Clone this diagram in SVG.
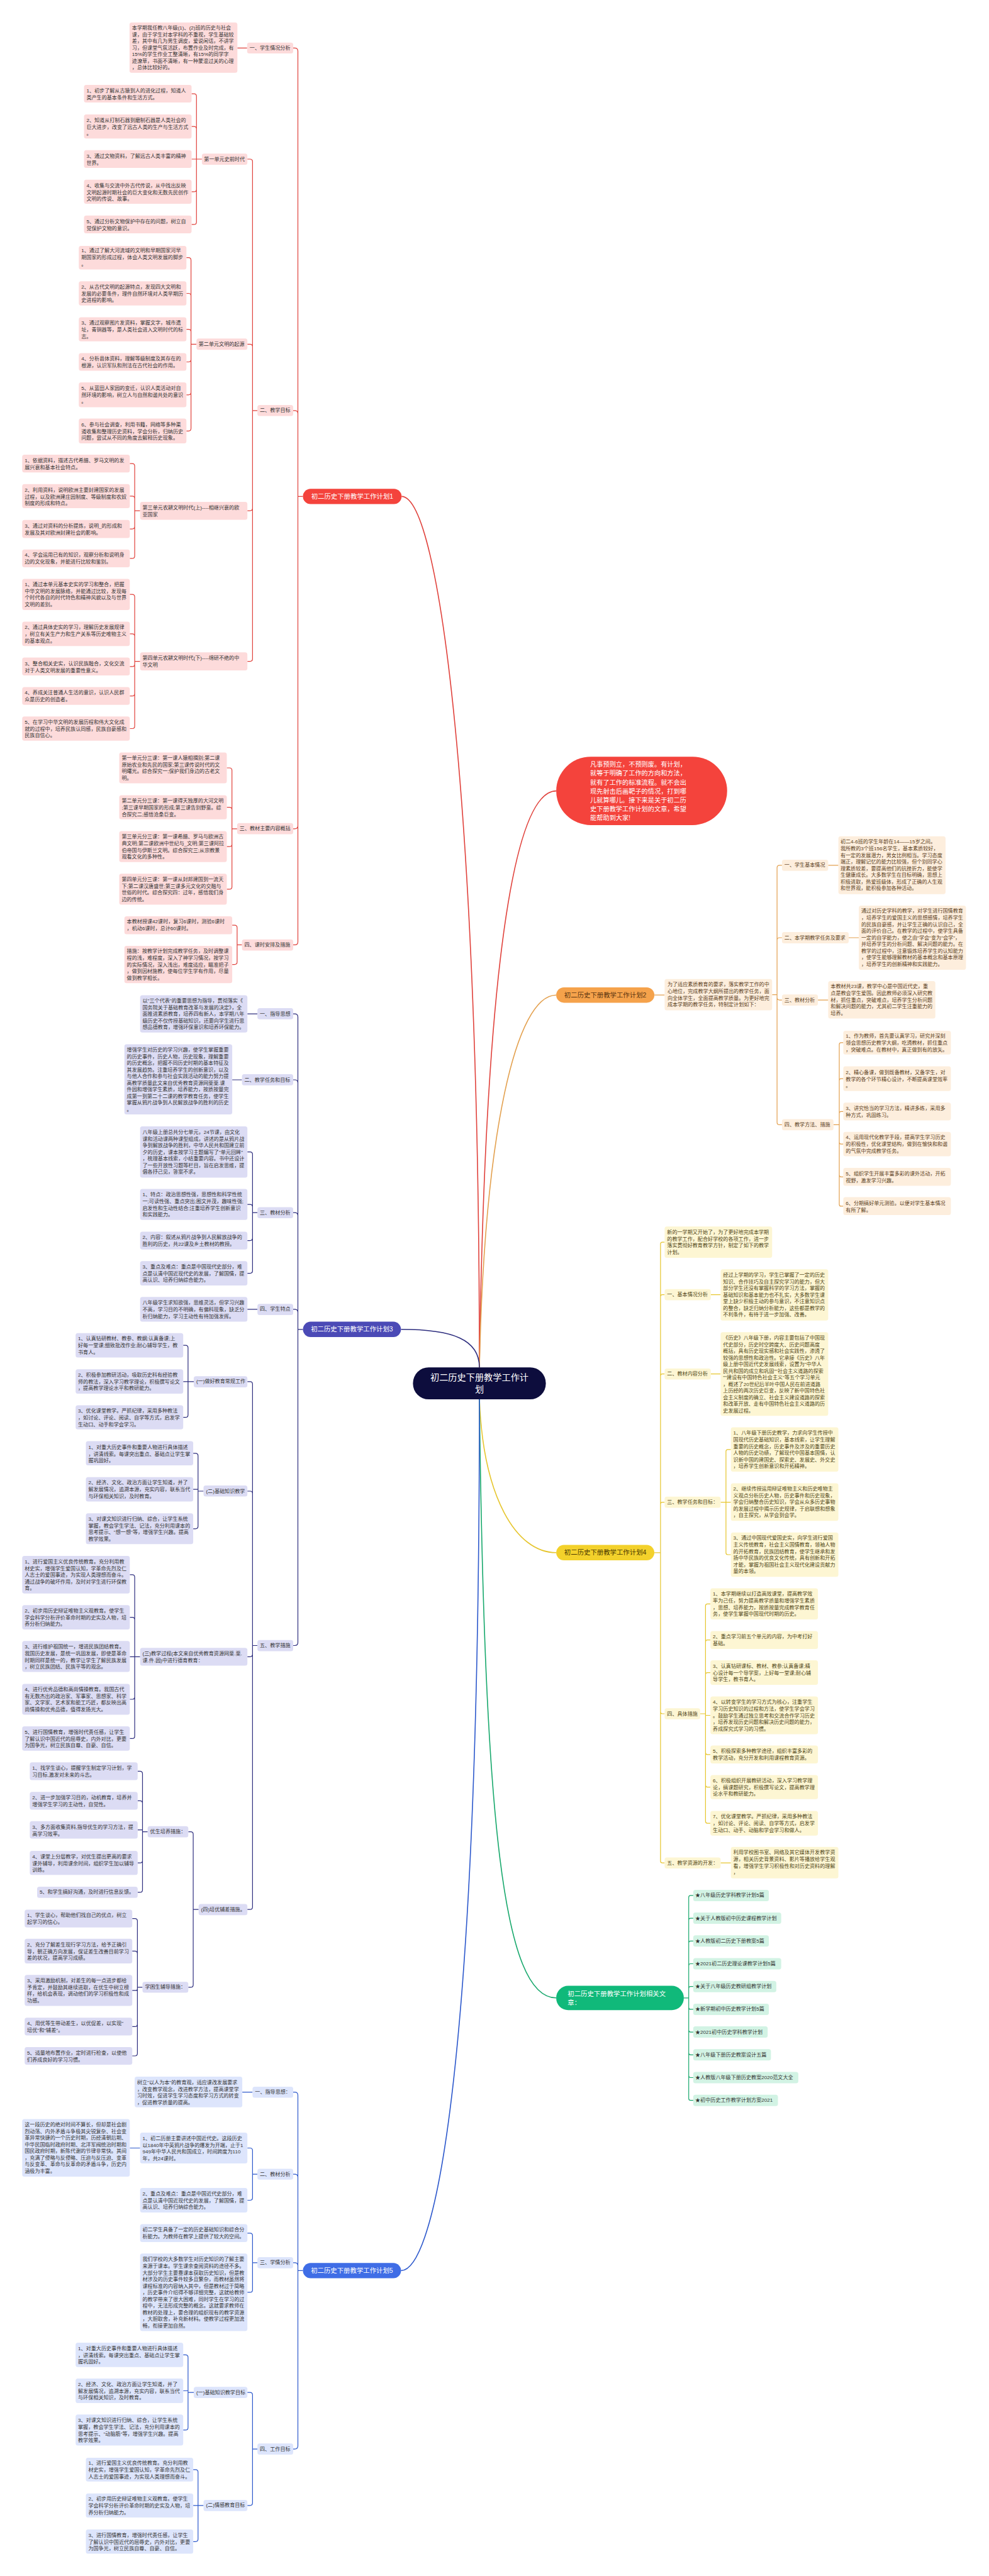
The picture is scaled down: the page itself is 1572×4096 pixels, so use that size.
<svg xmlns="http://www.w3.org/2000/svg" width="1572" height="4096" viewBox="0 0 1572 4096">
<style>
.t{font-family:"Liberation Sans","Noto Sans CJK SC",sans-serif;font-size:8.1px;fill:#333;dominant-baseline:central}
.p{font-family:"Liberation Sans","Noto Sans CJK SC",sans-serif;font-size:10.4px;dominant-baseline:central;text-anchor:middle}
.b{font-family:"Liberation Sans","Noto Sans CJK SC",sans-serif;font-size:10.2px;fill:#fff;dominant-baseline:central}
.cn{font-family:"Liberation Sans","Noto Sans CJK SC",sans-serif;font-size:14.2px;fill:#fff;dominant-baseline:central;text-anchor:middle}
.w{fill:#fff}
.rs{fill:#fddbdb}.ns{fill:#dcdcf4}.bs{fill:#dde5fc}.os{fill:#fdeedd}.ys{fill:#fdf6d3}.gs{fill:#d2f3e4}
.ot{fill:#5a3d1a}.yt{fill:#4f4514}
.c{fill:none;stroke-width:1.2}.m{fill:none;stroke-width:1.6}
.lr{stroke:#e0413b}.ln{stroke:#2d2d7e}.lb{stroke:#2c58cc}.lo{stroke:#e3a04e}.ly{stroke:#e6c52c}.lg{stroke:#17a86c}
</style>
<rect width="1572" height="4096" fill="#fff"/>
<g id="connectors">
<path class="m lr" d="M762 2174.2C762 1300 700 789.4 638.3 789.4"/>
<path class="m lr" d="M762 2174.2C770 1600 810 1257.6 884.1 1257.6"/>
<path class="m lo" d="M762 2174.2C770 1800 820 1582.2 884.1 1582.2"/>
<path class="m ln" d="M762 2174.2C762 2130 720 2113.8 637.4 2113.8"/>
<path class="m ly" d="M762 2225.1C768 2380 820 2468.8 884.1 2468.8"/>
<path class="m lg" d="M762 2225.1C770 2900 800 3176.8 884.1 3176.8"/>
<path class="m lb" d="M762 2225.1C762 3300 690 3610.4 637.4 3610.4"/>
<path class="c lr" d="M481.5 789.4H473.5V81.3Q473.5 76.3 468.5 76.3H466M481.5 789.4H473.5V657.8Q473.5 652.8 468.5 652.8H466M481.5 789.4H473.5V1312.8Q473.5 1317.8 468.5 1317.8H466M481.5 789.4H473.5V1497.4Q473.5 1502.4 468.5 1502.4H466M392.8 76.3H377.3
M409.2 652.8H401.4V257Q401.4 253 397.4 253H393.2M409.2 652.8H401.4V551.3Q401.4 547.3 397.4 547.3H393.2M409.2 652.8H401.4V808.1Q401.4 812.1 397.4 812.1H393.2M409.2 652.8H401.4V1047.6Q401.4 1051.6 397.4 1051.6H393.2
M320.9 253H312.3V153.1Q312.3 149.1 308.3 149.1H304.5M320.9 253H312.3V205.1Q312.3 201.1 308.3 201.1H304.5M320.9 253H304.5M320.9 253H312.3V300.9Q312.3 304.9 308.3 304.9H304.5M320.9 253H312.3V352.9Q312.3 356.9 308.3 356.9H304.5
M312.3 547.3H303.6V413.7Q303.6 409.7 299.6 409.7H296.3M312.3 547.3H303.6V470.5Q303.6 466.5 299.6 466.5H296.3M312.3 547.3H303.6V527.7Q303.6 523.7 299.6 523.7H296.3M312.3 547.3H303.6V571.5Q303.6 575.5 299.6 575.5H296.3M312.3 547.3H303.6V623.8Q303.6 627.8 299.6 627.8H296.3M312.3 547.3H303.6V681.3Q303.6 685.3 299.6 685.3H296.3
M222.7 812.1H214.1V741.2Q214.1 737.2 210.1 737.2H206.3M222.7 812.1H214.1V792.9Q214.1 788.9 210.1 788.9H206.3M222.7 812.1H214.1V837.1Q214.1 841.1 210.1 841.1H206.3M222.7 812.1H214.1V883.9Q214.1 887.9 210.1 887.9H206.3
M222.7 1051.6H214.1V949.2Q214.1 945.2 210.1 945.2H206.3M222.7 1051.6H214.1V1011.8Q214.1 1007.8 210.1 1007.8H206.3M222.7 1051.6H214.1V1055.9Q214.1 1059.9 210.1 1059.9H206.3M222.7 1051.6H214.1V1102.7Q214.1 1106.7 210.1 1106.7H206.3M222.7 1051.6H214.1V1154.5Q214.1 1158.5 210.1 1158.5H206.3
M376.9 1317.8H368.7V1225Q368.7 1221 364.7 1221H360.5M376.9 1317.8H368.7V1287.6Q368.7 1283.6 364.7 1283.6H360.5M376.9 1317.8H368.7V1342.2Q368.7 1346.2 364.7 1346.2H360.5M376.9 1317.8H368.7V1409.9Q368.7 1413.9 364.7 1413.9H360.5
M384.6 1502.4H376.9V1475.2Q376.9 1471.2 372.9 1471.2H369.1M384.6 1502.4H376.9V1529.6Q376.9 1533.6 372.9 1533.6H369.1"/>
<path class="c ln" d="M481.5 2113.8H473.5V1617.1Q473.5 1612.1 468.5 1612.1H466M481.5 2113.8H473.5V1722Q473.5 1717 468.5 1717H466M481.5 2113.8H473.5V1933.1Q473.5 1928.1 468.5 1928.1H466M481.5 2113.8H473.5V2086.8Q473.5 2081.8 468.5 2081.8H466M481.5 2113.8H473.5V2611.5Q473.5 2616.5 468.5 2616.5H466
M409.2 1612.1H393.2M384.6 1717H369.1M409.2 2081.8H393.2
M409.2 1928.1H401.4V1835.7Q401.4 1831.7 397.4 1831.7H393.2M409.2 1928.1H401.4V1919.1Q401.4 1915.1 397.4 1915.1H393.2M409.2 1928.1H401.4V1968.6Q401.4 1972.6 397.4 1972.6H393.2M409.2 1928.1H401.4V2020.6Q401.4 2024.6 397.4 2024.6H393.2
M409.2 2616.5H401.4V2200.9Q401.4 2196.9 397.4 2196.9H393.2M409.2 2616.5H401.4V2375Q401.4 2371 397.4 2371H393.2M409.2 2616.5H401.4V2630.3Q401.4 2634.3 397.4 2634.3H393.2M409.2 2616.5H401.4V3032.2Q401.4 3036.2 397.4 3036.2H393.2
M308 2196.9H298.9V2143.2Q298.9 2139.2 294.9 2139.2H291.2M308 2196.9H291.2M308 2196.9H298.9V2249.7Q298.9 2253.7 294.9 2253.7H291.2
M323.5 2371H314.8V2314.8Q314.8 2310.8 310.8 2310.8H307.1M323.5 2371H314.8V2368.2H307.1M323.5 2371H314.8V2426.8Q314.8 2430.8 310.8 2430.8H307.1
M222.7 2634.3H214.1V2507.9Q214.1 2503.9 210.1 2503.9H206.3M222.7 2634.3H214.1V2575.6Q214.1 2571.6 210.1 2571.6H206.3M222.7 2634.3H206.3M222.7 2634.3H214.1V2698Q214.1 2702 210.1 2702H206.3M222.7 2634.3H214.1V2760.4Q214.1 2764.4 210.1 2764.4H206.3
M315.7 3036.2H307.1V2916.7Q307.1 2912.7 303.1 2912.7H299.3M315.7 3036.2H307.1V3155.9Q307.1 3159.9 303.1 3159.9H299.3
M234.7 2912.7H226.5V2820.3Q226.5 2816.3 222.5 2816.3H218.8M234.7 2912.7H226.5V2867.3Q226.5 2863.3 222.5 2863.3H218.8M234.7 2912.7H226.5V2909.6H218.8M234.7 2912.7H226.5V2958.2Q226.5 2962.2 222.5 2962.2H218.8M234.7 2912.7H226.5V3004.9Q226.5 3008.9 222.5 3008.9H218.8
M226.5 3159.9H218.4V3054.6Q218.4 3050.6 214.4 3050.6H210.2M226.5 3159.9H218.4V3106.4Q218.4 3102.4 214.4 3102.4H210.2M226.5 3159.9H218.4V3162.4Q218.4 3164.9 215.9 3164.9H210.2M226.5 3159.9H218.4V3218.4Q218.4 3222.4 214.4 3222.4H210.2M226.5 3159.9H218.4V3265Q218.4 3269 214.4 3269H210.2"/>
<path class="c lb" d="M481.5 3610.4H473.5V3331.7Q473.5 3326.7 468.5 3326.7H466M481.5 3610.4H473.5V3462.2Q473.5 3457.2 468.5 3457.2H466M481.5 3610.4H473.5V3602.8Q473.5 3597.8 468.5 3597.8H466M481.5 3610.4H473.5V3889.1Q473.5 3894.1 468.5 3894.1H466
M401.4 3326.7H385.1M222.7 3415.5H206.3
M409.2 3457.2H401.4V3419.5Q401.4 3415.5 397.4 3415.5H393.2M409.2 3457.2H401.4V3494.5Q401.4 3498.5 397.4 3498.5H393.2
M409.2 3597.8H401.4V3554.8Q401.4 3550.8 397.4 3550.8H393.2M409.2 3597.8H401.4V3640.9Q401.4 3644.9 397.4 3644.9H393.2
M409.2 3894.1H401.4V3808.1Q401.4 3804.1 397.4 3804.1H393.2M409.2 3894.1H401.4V3979.8Q401.4 3983.8 397.4 3983.8H393.2
M308 3804.1H298.9V3748.4Q298.9 3744.4 294.9 3744.4H291.2M308 3804.1H298.9V3801.5H291.2M308 3804.1H298.9V3859.9Q298.9 3863.9 294.9 3863.9H291.2
M323.5 3983.8H314.8V3930.9Q314.8 3926.9 310.8 3926.9H307.1M323.5 3983.8H307.1M323.5 3983.8H314.8V4037.3Q314.8 4041.3 310.8 4041.3H307.1"/>
<path class="c lo" d="M1040.1 1582.2H1056.4
M1227.3 1581.7H1235.1V1379.9Q1235.1 1375.9 1239.1 1375.9H1242.9M1227.3 1581.7H1235.1V1495Q1235.1 1491 1239.1 1491H1242.9M1227.3 1581.7H1235.1V1586.1Q1235.1 1590.1 1239.1 1590.1H1242.9M1227.3 1581.7H1235.1V1784.4Q1235.1 1788.4 1239.1 1788.4H1242.9
M1316.4 1375.9H1332.6M1349 1491H1365.1M1300.1 1590.1H1316.4
M1324.8 1788.4H1334V1660.9Q1334 1657.9 1337 1657.9H1340.4M1324.8 1788.4H1334V1718.2Q1334 1715.2 1337 1715.2H1340.4M1324.8 1788.4H1334V1770.3Q1334 1767.3 1337 1767.3H1340.4M1324.8 1788.4H1334V1816.2Q1334 1819.2 1337 1819.2H1340.4M1324.8 1788.4H1334V1868.3Q1334 1871.3 1337 1871.3H1340.4M1324.8 1788.4H1334V1914.9Q1334 1917.9 1337 1917.9H1340.4"/>
<path class="c ly" d="M1040.1 2468.8H1049.9V1978.1Q1049.9 1975.1 1052.9 1975.1H1056.4M1040.1 2468.8H1049.9V2061.6Q1049.9 2058.6 1052.9 2058.6H1056.4M1040.1 2468.8H1049.9V2187.7Q1049.9 2184.7 1052.9 2184.7H1056.4M1040.1 2468.8H1049.9V2391.6Q1049.9 2388.6 1052.9 2388.6H1056.4M1040.1 2468.8H1049.9V2722Q1049.9 2725 1052.9 2725H1056.4M1040.1 2468.8H1049.9V2959.2Q1049.9 2962.2 1052.9 2962.2H1056.4
M1129.8 2058.6H1145.4M1129.8 2184.7H1145.4M1145.4 2962.2H1161.7
M1145.4 2388.6H1153.9V2307.8Q1153.9 2304.8 1156.9 2304.8H1161.7M1145.4 2388.6H1161.7M1145.4 2388.6H1153.9V2469Q1153.9 2472 1156.9 2472H1161.7
M1112.9 2725H1121.4V2553.3Q1121.4 2550.3 1124.4 2550.3H1129.2M1112.9 2725H1121.4V2610.7Q1121.4 2607.7 1124.4 2607.7H1129.2M1112.9 2725H1121.4V2662.6Q1121.4 2659.6 1124.4 2659.6H1129.2M1112.9 2725H1121.4V2727.5H1129.2M1112.9 2725H1121.4V2786.8Q1121.4 2789.8 1124.4 2789.8H1129.2M1112.9 2725H1121.4V2838.6Q1121.4 2841.6 1124.4 2841.6H1129.2M1112.9 2725H1121.4V2896.1Q1121.4 2899.1 1124.4 2899.1H1129.2"/>
<path class="c lg" d="M1086.9 3176.8H1094.7V3016.9Q1094.7 3013.9 1097.7 3013.9H1101.9M1086.9 3176.8H1094.7V3053.1Q1094.7 3050.1 1097.7 3050.1H1101.9M1086.9 3176.8H1094.7V3089.3Q1094.7 3086.3 1097.7 3086.3H1101.9M1086.9 3176.8H1094.7V3125.5Q1094.7 3122.5 1097.7 3122.5H1101.9M1086.9 3176.8H1094.7V3161.7Q1094.7 3158.7 1097.7 3158.7H1101.9M1086.9 3176.8H1094.7V3191.9Q1094.7 3194.9 1097.7 3194.9H1101.9M1086.9 3176.8H1094.7V3228.1Q1094.7 3231.1 1097.7 3231.1H1101.9M1086.9 3176.8H1094.7V3264.3Q1094.7 3267.3 1097.7 3267.3H1101.9M1086.9 3176.8H1094.7V3300.5Q1094.7 3303.5 1097.7 3303.5H1101.9M1086.9 3176.8H1094.7V3336.7Q1094.7 3339.7 1097.7 3339.7H1101.9"/>
</g>
<g id="center"><rect x="656.4" y="2174.2" width="211.2" height="50.9" rx="25" fill="#0d0d3d"/><text class="cn" x="762" y="2189.8">初二历史下册教学工作计<tspan x="762" dy="19.6">划</tspan></text></g>
<g id="intro"><rect x="884.1" y="1203.2" width="271.7" height="108.8" rx="55" fill="#f4433c"/><text class="b" x="938.1" y="1215.3">凡事预则立，不预则废。有计划，<tspan x="938.1" dy="14.1">就等于明确了工作的方向和方法，</tspan><tspan x="938.1" dy="14.1">就有了工作的标准流程。就不会出</tspan><tspan x="938.1" dy="14.1">现先射击后画靶子的情况，打到哪</tspan><tspan x="938.1" dy="14.1">儿就算哪儿。接下来是关于初二历</tspan><tspan x="938.1" dy="14.1">史下册教学工作计划的文章，希望</tspan><tspan x="938.1" dy="14.1">能帮助到大家!</tspan></text></g>

<g id="plan1"><rect x="481.5" y="777.2" width="156.8" height="24.4" rx="12.2" fill="#f4433c"/><text class="p w" x="559.9" y="789.4">初二历史下册教学工作计划1</text></g>
<g id="p1-1"><rect class="rs" x="392.8" y="67.7" width="73.2" height="17.3" rx="3.5"/><text class="t" x="396.8" y="76.3">一、学生情况分析</text></g>
<g id="p1-1a"><rect class="rs" x="205.9" y="35.7" width="171.4" height="80.1" rx="3.5"/><text class="t" x="209.8" y="44.4">本学期我任教八年级(1)、(2)班的历史与社会<tspan x="209.8" dy="10.5">课，由于学生对本学科的不重视，学生基础较</tspan><tspan x="209.8" dy="10.5">差，其中有几为男生调皮，爱说闲话，不讲学</tspan><tspan x="209.8" dy="10.5">习，但课堂气氛活跃，布置作业及时完成，有</tspan><tspan x="209.8" dy="10.5">15%的学生作业工整清晰，有15%的同学字</tspan><tspan x="209.8" dy="10.5">迹潦草，书面不清晰，有一种蒙混过关的心理</tspan><tspan x="209.8" dy="10.5">，总体比较好的。</tspan></text></g>
<g id="p1-2"><rect class="rs" x="409.2" y="644.1" width="56.8" height="17.3" rx="3.5"/><text class="t" x="413" y="652.8">二、教学目标</text></g>
<g id="p1-2-1"><rect class="rs" x="320.9" y="244.3" width="72.3" height="17.7" rx="3.5"/><text class="t" x="324.3" y="253">第一单元史前时代</text></g>
<g id="p1-2-1a"><rect class="rs" x="133.5" y="135" width="171" height="28.1" rx="3.5"/><text class="t" x="137.4" y="144">1、初步了解从古猿到人的进化过程，知道人<tspan x="137.4" dy="10.5">类产生的基本条件和生活方式。</tspan></text></g>
<g id="p1-2-1b"><rect class="rs" x="133.5" y="181.9" width="171" height="38.4" rx="3.5"/><text class="t" x="137.4" y="191">2、知道从打制石器到磨制石器是人类社会的<tspan x="137.4" dy="10.5">巨大进步，改变了远古人类的生产与生活方式</tspan><tspan x="137.4" dy="10.5">。</tspan></text></g>
<g id="p1-2-1c"><rect class="rs" x="133.5" y="238.7" width="171" height="28.2" rx="3.5"/><text class="t" x="137.4" y="248.1">3、通过文物资料，了解远古人类丰富的精神<tspan x="137.4" dy="10.5">世界。</tspan></text></g>
<g id="p1-2-1d"><rect class="rs" x="133.5" y="285.7" width="171" height="38.3" rx="3.5"/><text class="t" x="137.4" y="295.1">4、收集与交流中外古代传说，从中找出反映<tspan x="137.4" dy="10.5">文明起源时期社会的巨大变化和无数先民创作</tspan><tspan x="137.4" dy="10.5">文明的传说、故事。</tspan></text></g>
<g id="p1-2-1e"><rect class="rs" x="133.5" y="342.8" width="171" height="28.2" rx="3.5"/><text class="t" x="137.4" y="352.2">5、通过分析文物保护中存在的问题，树立自<tspan x="137.4" dy="10.5">觉保护文物的意识。</tspan></text></g>
<g id="p1-2-2"><rect class="rs" x="312.3" y="538.3" width="80.9" height="18" rx="3.5"/><text class="t" x="315.7" y="547.3">第二单元文明的起源</text></g>
<g id="p1-2-2a"><rect class="rs" x="125.3" y="390.9" width="171" height="37.6" rx="3.5"/><text class="t" x="129.2" y="398.8">1、通过了解大河流域的文明和早期国家河早<tspan x="129.2" dy="10.5">期国家的形成过程，体会人类文明发展的脚步</tspan><tspan x="129.2" dy="10.5">。</tspan></text></g>
<g id="p1-2-2b"><rect class="rs" x="125.3" y="447.3" width="171" height="38.4" rx="3.5"/><text class="t" x="129.2" y="456">2、从古代文明的起源特点，发现四大文明和<tspan x="129.2" dy="10.5">发展的必要条件，理件自然环境对人类早期历</tspan><tspan x="129.2" dy="10.5">史进程的影响。</tspan></text></g>
<g id="p1-2-2c"><rect class="rs" x="125.3" y="504.5" width="171" height="38.3" rx="3.5"/><text class="t" x="129.2" y="513.5">3、通过观察图片发资料，掌握文字，城市遗<tspan x="129.2" dy="10.5">址，青铜器等，是人类社会进入文明时代的标</tspan><tspan x="129.2" dy="10.5">志。</tspan></text></g>
<g id="p1-2-2d"><rect class="rs" x="125.3" y="561.6" width="171" height="27.8" rx="3.5"/><text class="t" x="129.2" y="570.6">4、分析县体资料，理解等级制度及其存在的<tspan x="129.2" dy="10.5">根源，认识军队和刑法在古代社会的作用。</tspan></text></g>
<g id="p1-2-2e"><rect class="rs" x="125.3" y="608" width="171" height="39.5" rx="3.5"/><text class="t" x="129.2" y="617.4">5、从蓝田人家园的变迁，认识人类活动对自<tspan x="129.2" dy="10.5">然环境的影响，树立人与自然和谐共处的意识</tspan><tspan x="129.2" dy="10.5">。</tspan></text></g>
<g id="p1-2-2f"><rect class="rs" x="125.3" y="665.5" width="171" height="39.5" rx="3.5"/><text class="t" x="129.2" y="675">6、参与社会调查，利用书籍，网络等多种渠<tspan x="129.2" dy="10.5">道收集和整理历史资料，学会分析，归纳历史</tspan><tspan x="129.2" dy="10.5">问题，尝试从不同的角度去解释历史现象。</tspan></text></g>
<g id="p1-2-3"><rect class="rs" x="222.7" y="797.9" width="170.5" height="28.5" rx="3.5"/><text class="t" x="226.5" y="807.3">第三单元农耕文明时代(上)----相继兴衰的欧<tspan x="226.5" dy="10.5">亚国家</tspan></text></g>
<g id="p1-2-3a"><rect class="rs" x="35.3" y="723.1" width="171" height="28.1" rx="3.5"/><text class="t" x="39.2" y="732.1">1、依据资料，描述古代希腊、罗马文明的发<tspan x="39.2" dy="10.5">展兴衰和基本社会特点。</tspan></text></g>
<g id="p1-2-3b"><rect class="rs" x="35.3" y="769.7" width="171" height="38.3" rx="3.5"/><text class="t" x="39.2" y="779.1">2、利用资料，说明欧洲主要封建国家的发展<tspan x="39.2" dy="10.5">过程，以及欧洲建庄园制度、等级制度和农奴</tspan><tspan x="39.2" dy="10.5">制度的形成和特点。</tspan></text></g>
<g id="p1-2-3c"><rect class="rs" x="35.3" y="826.8" width="171" height="28.6" rx="3.5"/><text class="t" x="39.2" y="836.2">3、通过对资料的分析提炼，说明_的形成和<tspan x="39.2" dy="10.5">发展及其对欧洲封建社会的影响。</tspan></text></g>
<g id="p1-2-3d"><rect class="rs" x="35.3" y="873.8" width="171" height="28.2" rx="3.5"/><text class="t" x="39.2" y="882.8">4、学会运用已有的知识，观察分析和说明身<tspan x="39.2" dy="10.5">边的文化现象，并能进行比较和鉴别。</tspan></text></g>
<g id="p1-2-4"><rect class="rs" x="222.7" y="1037.3" width="170.5" height="28.6" rx="3.5"/><text class="t" x="226.5" y="1046.7">第四单元农耕文明时代(下)----绵研不绝的中<tspan x="226.5" dy="10.5">华文明</tspan></text></g>
<g id="p1-2-4a"><rect class="rs" x="35.3" y="920.4" width="171" height="49.6" rx="3.5"/><text class="t" x="39.2" y="929.4">1、通过本单元基本史实的学习和整合，把握<tspan x="39.2" dy="10.5">中华文明的发展脉络，并能通过比较，发现每</tspan><tspan x="39.2" dy="10.5">个时代各自的时代特色和精神风貌以及与世界</tspan><tspan x="39.2" dy="10.5">文明的差别。</tspan></text></g>
<g id="p1-2-4b"><rect class="rs" x="35.3" y="988.4" width="171" height="38.8" rx="3.5"/><text class="t" x="39.2" y="997.5">2、通过具体史实的学习，理解历史发展规律<tspan x="39.2" dy="10.5">，树立有关生产力和生产关系等历史唯物主义</tspan><tspan x="39.2" dy="10.5">的基本观点。</tspan></text></g>
<g id="p1-2-4c"><rect class="rs" x="35.3" y="1045.6" width="171" height="28.5" rx="3.5"/><text class="t" x="39.2" y="1055">3、整合相关史实，认识民族融合，文化交流<tspan x="39.2" dy="10.5">对于人类文明发展的重要性意义。</tspan></text></g>
<g id="p1-2-4d"><rect class="rs" x="35.3" y="1092.6" width="171" height="28.2" rx="3.5"/><text class="t" x="39.2" y="1101.6">4、养成关注普通人生活的意识，认识人民群<tspan x="39.2" dy="10.5">众是历史的创造者。</tspan></text></g>
<g id="p1-2-4e"><rect class="rs" x="35.3" y="1139.2" width="171" height="38.5" rx="3.5"/><text class="t" x="39.2" y="1148.2">5、在学习中华文明的发展历程和伟大文化成<tspan x="39.2" dy="10.5">就的过程中，培养民族认同感，民族自豪感和</tspan><tspan x="39.2" dy="10.5">民族自信心。</tspan></text></g>
<g id="p1-3"><rect class="rs" x="376.9" y="1308.8" width="89.1" height="17.7" rx="3.5"/><text class="t" x="380.8" y="1317.8">三、教材主要内容概括</text></g>
<g id="p1-3a"><rect class="rs" x="189.5" y="1196.4" width="171" height="49.2" rx="3.5"/><text class="t" x="193.4" y="1205.4">第一单元分三课：第一课人猿相揖别;第二课<tspan x="193.4" dy="10.5">原始农业和先民的国家;第三课传说时代的文</tspan><tspan x="193.4" dy="10.5">明曙光。综合探究一;保护我们身边的古老文</tspan><tspan x="193.4" dy="10.5">明。</tspan></text></g>
<g id="p1-3b"><rect class="rs" x="189.5" y="1264.4" width="171" height="38.4" rx="3.5"/><text class="t" x="193.4" y="1273.5">第二单元分三课：第一课得天独厚的大河文明<tspan x="193.4" dy="10.5">;第三课早期国家的形成;第三课告别野蛮。综</tspan><tspan x="193.4" dy="10.5">合探究二;感悟沧桑巨变。</tspan></text></g>
<g id="p1-3c"><rect class="rs" x="189.5" y="1321.6" width="171" height="49.2" rx="3.5"/><text class="t" x="193.4" y="1330.6">第三单元分三课：第一课希腊、罗马与欧洲古<tspan x="193.4" dy="10.5">典文明;第二课欧洲中世纪与_文明;第三课阿拉</tspan><tspan x="193.4" dy="10.5">伯帝国与伊斯兰文明。综合探究三;从宗教景</tspan><tspan x="193.4" dy="10.5">观看文化的多种性。</tspan></text></g>
<g id="p1-3d"><rect class="rs" x="189.5" y="1389.2" width="171" height="49.3" rx="3.5"/><text class="t" x="193.4" y="1398.3">第四单元分三课：第一课从封邦建国到一流天<tspan x="193.4" dy="10.5">下;第二课汉唐盛世;第三课多元文化的交融与</tspan><tspan x="193.4" dy="10.5">世俗的时代。综合探究四：过年，感悟我们身</tspan><tspan x="193.4" dy="10.5">边的传统。</tspan></text></g>
<g id="p1-4"><rect class="rs" x="384.6" y="1493.7" width="81.4" height="17.7" rx="3.5"/><text class="t" x="388.5" y="1502.4">四、课时安排及措施</text></g>
<g id="p1-4a"><rect class="rs" x="197.7" y="1456.9" width="171.4" height="28.6" rx="3.5"/><text class="t" x="201.6" y="1465.9">本教材授课42课时，复习6课时，测验6课时<tspan x="201.6" dy="10.5">，机动6课时，总计60课时。</tspan></text></g>
<g id="p1-4b"><rect class="rs" x="197.7" y="1503.9" width="171.4" height="59.4" rx="3.5"/><text class="t" x="201.6" y="1512.9">措施：按教学计划完成教学任务，及时调整课<tspan x="201.6" dy="10.5">程的浅，难程度，深入了神学习情况，按学习</tspan><tspan x="201.6" dy="10.5">的实际情况，深入浅出，难度适应，瞄准把子</tspan><tspan x="201.6" dy="10.5">，做到因材施教，使每位学生学有作用，尽量</tspan><tspan x="201.6" dy="10.5">做到教学相长。</tspan></text></g>

<g id="plan3"><rect x="481.5" y="2101.6" width="155.9" height="24.4" rx="12.2" fill="#4b4ab6"/><text class="p w" x="559.4" y="2113.8">初二历史下册教学工作计划3</text></g>
<g id="p3-1"><rect class="ns" x="409.2" y="1603.1" width="56.8" height="17.7" rx="3.5"/><text class="t" x="413" y="1612.1">一、指导思想</text></g>
<g id="p3-1a"><rect class="ns" x="222.7" y="1582.5" width="170.5" height="59.3" rx="3.5"/><text class="t" x="226.5" y="1591.1">以"三个代表"的重要思想为指导，贯彻落实《<tspan x="226.5" dy="10.5">国务院关于基础教育改革与发展的决定》，全</tspan><tspan x="226.5" dy="10.5">面推进素质教育，培养四有新人，本学期八年</tspan><tspan x="226.5" dy="10.5">级历史不仅传授基础知识，还要向学生进行思</tspan><tspan x="226.5" dy="10.5">想品德教育，增强环保意识和培养环保能力。</tspan></text></g>
<g id="p3-2"><rect class="ns" x="384.6" y="1708" width="81.4" height="17.7" rx="3.5"/><text class="t" x="388.5" y="1717">二、教学任务和目标</text></g>
<g id="p3-2a"><rect class="ns" x="197.7" y="1660.6" width="171.4" height="111.5" rx="3.5"/><text class="t" x="201.6" y="1669.3">增强学生对历史的学习兴趣，使学生掌握重要<tspan x="201.6" dy="10.5">的历史事件，历史人物，历史现象，理解重要</tspan><tspan x="201.6" dy="10.5">的历史概念，把握不同历史时期的基本特征及</tspan><tspan x="201.6" dy="10.5">其发展趋势。注重培养学生的创新意识，以及</tspan><tspan x="201.6" dy="10.5">与他人合作和参与社会实践活动的能力努力提</tspan><tspan x="201.6" dy="10.5">高教学质量此文来自优秀教育资源网斐斐.课</tspan><tspan x="201.6" dy="10.5">件园和增强学生素质，培养能力，按质按量完</tspan><tspan x="201.6" dy="10.5">成第一到第二十二课的教学教育任务，使学生</tspan><tspan x="201.6" dy="10.5">掌握从鸦片战争到人民解放战争的胜利的历史</tspan><tspan x="201.6" dy="10.5">。</tspan></text></g>
<g id="p3-3"><rect class="ns" x="409.2" y="1919.5" width="56.8" height="17.6" rx="3.5"/><text class="t" x="413" y="1928.1">三、教材分析</text></g>
<g id="p3-3a"><rect class="ns" x="222.7" y="1790.9" width="170.5" height="81.6" rx="3.5"/><text class="t" x="226.5" y="1800.3">八年级上册总共分七单元，24节课，由文化<tspan x="226.5" dy="10.5">课和活动课两种课型组成，讲述的是从鸦片战</tspan><tspan x="226.5" dy="10.5">争到解放战争的胜利，中华人民共和国建立前</tspan><tspan x="226.5" dy="10.5">夕的历史，课本按学习主题编写了"单元回眸"</tspan><tspan x="226.5" dy="10.5">，梳理基本线索，小结重要内容。书中还设计</tspan><tspan x="226.5" dy="10.5">了一些开放性习题等栏目，旨在启发思维，提</tspan><tspan x="226.5" dy="10.5">倡各抒己见，答案不求。</tspan></text></g>
<g id="p3-3b"><rect class="ns" x="222.7" y="1890.5" width="170.5" height="49.2" rx="3.5"/><text class="t" x="226.5" y="1899.9">1、特点：政治思想性强，思想性和科学性统<tspan x="226.5" dy="10.5">一;可读性强、重点突出;图文并茂，趣味性强;</tspan><tspan x="226.5" dy="10.5">启发性和生动性结合;注重培养学生创新意识</tspan><tspan x="226.5" dy="10.5">和实践能力。</tspan></text></g>
<g id="p3-3c"><rect class="ns" x="222.7" y="1958.5" width="170.5" height="28.2" rx="3.5"/><text class="t" x="226.5" y="1967.6">2、内容：叙述从鸦片战争到人民解放战争的<tspan x="226.5" dy="10.5">胜利的历史，共22课及乡土教材的教授。</tspan></text></g>
<g id="p3-3d"><rect class="ns" x="222.7" y="2005.2" width="170.5" height="38.7" rx="3.5"/><text class="t" x="226.5" y="2014.2">3、重点及难点：重点是中国现代史部分，难<tspan x="226.5" dy="10.5">点是认清中国近现代史的发展，了解国情，提</tspan><tspan x="226.5" dy="10.5">高认识、培养归纳综合能力。</tspan></text></g>
<g id="p3-4"><rect class="ns" x="409.2" y="2073.2" width="56.8" height="17.7" rx="3.5"/><text class="t" x="413" y="2081.8">四、学生特点</text></g>
<g id="p3-4a"><rect class="ns" x="222.7" y="2062.3" width="170.5" height="39.1" rx="3.5"/><text class="t" x="226.5" y="2071.7">八年级学生求知欲强，思维灵活，但学习兴趣<tspan x="226.5" dy="10.5">不高，学习目的不明确，有偏科现象，缺乏分</tspan><tspan x="226.5" dy="10.5">析归纳能力，学习主动性有待加强发挥。</tspan></text></g>
<g id="p3-5"><rect class="ns" x="409.2" y="2607.8" width="56.8" height="17.7" rx="3.5"/><text class="t" x="413" y="2616.5">五、教学措施</text></g>
<g id="p3-5-1"><rect class="ns" x="308" y="2188.2" width="85.2" height="17.7" rx="3.5"/><text class="t" x="311.9" y="2196.9">(一)做好教育常规工作</text></g>
<g id="p3-5-1a"><rect class="ns" x="120.2" y="2119.8" width="171" height="38.7" rx="3.5"/><text class="t" x="124" y="2128.8">1、认真钻研教材、教参、教纲;认真备课;上<tspan x="124" dy="10.5">好每一堂课;细致批改作业;耐心辅导学生，教</tspan><tspan x="124" dy="10.5">书育人。</tspan></text></g>
<g id="p3-5-1b"><rect class="ns" x="120.2" y="2177.3" width="171" height="38.7" rx="3.5"/><text class="t" x="124" y="2186.3">2、积极参加教研活动，吸取历史科有经验教<tspan x="124" dy="10.5">师的教法，深入学习教学理论，积极撰写论文</tspan><tspan x="124" dy="10.5">，提高教学理论水平和教研能力。</tspan></text></g>
<g id="p3-5-1c"><rect class="ns" x="120.2" y="2234.5" width="171" height="38.3" rx="3.5"/><text class="t" x="124" y="2243.5">3、优化课堂教学。严抓纪律，采用多种教法<tspan x="124" dy="10.5">，如讨论、评论、阅读、自学等方式，启发学</tspan><tspan x="124" dy="10.5">生动口、动手和学会学习。</tspan></text></g>
<g id="p3-5-2"><rect class="ns" x="323.5" y="2362" width="69.7" height="17.6" rx="3.5"/><text class="t" x="327.4" y="2371">(二)基础知识教学</text></g>
<g id="p3-5-2a"><rect class="ns" x="136.5" y="2291.6" width="170.6" height="38.4" rx="3.5"/><text class="t" x="140.4" y="2301">1、对重大历史事件和重要人物进行具体描述<tspan x="140.4" dy="10.5">，讲清线索。每课突出重点、基础点让学生掌</tspan><tspan x="140.4" dy="10.5">握巩固好。</tspan></text></g>
<g id="p3-5-2b"><rect class="ns" x="136.5" y="2348.8" width="170.6" height="38.7" rx="3.5"/><text class="t" x="140.4" y="2357.8">2、经济、文化、政治方面让学生知道，并了<tspan x="140.4" dy="10.5">解发展情况，追溯本源，充实内容，联系当代</tspan><tspan x="140.4" dy="10.5">与环保相关知识，及时教育。</tspan></text></g>
<g id="p3-5-2c"><rect class="ns" x="136.5" y="2406.3" width="170.6" height="48.9" rx="3.5"/><text class="t" x="140.4" y="2415.4">3、对课文知识进行归纳、综合，让学生系统<tspan x="140.4" dy="10.5">掌握，教会学生学法、记法，充分利用课本的</tspan><tspan x="140.4" dy="10.5">思考提示、"想一想"等，增强学生兴趣。提高</tspan><tspan x="140.4" dy="10.5">教学效果。</tspan></text></g>
<g id="p3-5-3"><rect class="ns" x="222.7" y="2620.2" width="170.5" height="28.2" rx="3.5"/><text class="t" x="226.5" y="2629.3">(三)教学过程(本文来自优秀教育资源网斐.斐.<tspan x="226.5" dy="10.5">课.件.园)中进行德育教育：</tspan></text></g>
<g id="p3-5-3a"><rect class="ns" x="35.3" y="2474" width="171" height="59.8" rx="3.5"/><text class="t" x="39.2" y="2483">1、进行爱国主义优良传统教育。充分利用教<tspan x="39.2" dy="10.5">材史实，增强学生爱国认知，学革命先烈及仁</tspan><tspan x="39.2" dy="10.5">人志士的爱国事迹，为实现人类理想而奋斗。</tspan><tspan x="39.2" dy="10.5">通过战争的破坏作用，及时对学生进行环保教</tspan><tspan x="39.2" dy="10.5">育。</tspan></text></g>
<g id="p3-5-3b"><rect class="ns" x="35.3" y="2552.2" width="171" height="38.7" rx="3.5"/><text class="t" x="39.2" y="2561.2">2、初步用历史辩证唯物主义观教育。使学生<tspan x="39.2" dy="10.5">学会科学分析评价革命时期的史实及人物，培</tspan><tspan x="39.2" dy="10.5">养分析归纳能力。</tspan></text></g>
<g id="p3-5-3c"><rect class="ns" x="35.3" y="2609.3" width="171" height="49.3" rx="3.5"/><text class="t" x="39.2" y="2618.7">3、进行维护祖国统一，增进民族团结教育。<tspan x="39.2" dy="10.5">我国历史发展，是统一巩固发展，即使是革命</tspan><tspan x="39.2" dy="10.5">时期同样是统一的，教学让学生了解民族发展</tspan><tspan x="39.2" dy="10.5">，树立民族团结、民族平等的观念。</tspan></text></g>
<g id="p3-5-3d"><rect class="ns" x="35.3" y="2677.4" width="171" height="49.2" rx="3.5"/><text class="t" x="39.2" y="2686.4">4、进行优秀品德和高尚情操教育。我国古代<tspan x="39.2" dy="10.5">有无数杰出的政治家、军事家、思想家、科学</tspan><tspan x="39.2" dy="10.5">家、文学家、艺术家和能工巧匠，都反映出高</tspan><tspan x="39.2" dy="10.5">尚情操和优秀品德，值得发扬光大。</tspan></text></g>
<g id="p3-5-3e"><rect class="ns" x="35.3" y="2745" width="171" height="38.7" rx="3.5"/><text class="t" x="39.2" y="2754.4">5、进行国情教育，增强时代责任感，让学生<tspan x="39.2" dy="10.5">了解认识中国近代的屈辱史，内外对比，更要</tspan><tspan x="39.2" dy="10.5">为国争光，树立民族自尊、自豪、自信。</tspan></text></g>
<g id="p3-5-4"><rect class="ns" x="315.7" y="3027.5" width="77.5" height="17.7" rx="3.5"/><text class="t" x="319.6" y="3036.2">(四)培优辅差措施。</text></g>
<g id="p3-5-4-1"><rect class="ns" x="234.7" y="2903.8" width="64.6" height="17.7" rx="3.5"/><text class="t" x="238.6" y="2912.7">优生培养措施：</text></g>
<g id="p3-5-4-1a"><rect class="ns" x="47.4" y="2802.2" width="171.4" height="28.2" rx="3.5"/><text class="t" x="51.3" y="2811.6">1、找学生谈心，提醒学生制定学习计划，学<tspan x="51.3" dy="10.5">习目标,激发对未来的斗志。</tspan></text></g>
<g id="p3-5-4-1b"><rect class="ns" x="47.4" y="2849.2" width="171.4" height="28.2" rx="3.5"/><text class="t" x="51.3" y="2858.2">2、进一步加强学习目的，动机教育，培养并<tspan x="51.3" dy="10.5">增强学生学习的主动性，自觉性。</tspan></text></g>
<g id="p3-5-4-1c"><rect class="ns" x="47.4" y="2895.8" width="171.4" height="27.6" rx="3.5"/><text class="t" x="51.3" y="2905.3">3、多方面收集资料,指导优生的学习方法，提<tspan x="51.3" dy="10.5">高学习效率。</tspan></text></g>
<g id="p3-5-4-1d"><rect class="ns" x="47.4" y="2943" width="171.4" height="38.3" rx="3.5"/><text class="t" x="51.3" y="2952">4、课堂上分层教学，对优生提出更高的要求<tspan x="51.3" dy="10.5">课外辅导，利用课余时间，组织学生加以辅导</tspan><tspan x="51.3" dy="10.5">训练。</tspan></text></g>
<g id="p3-5-4-1e"><rect class="ns" x="59" y="3000.1" width="159.8" height="17.6" rx="3.5"/><text class="t" x="62.9" y="3008.9">5、和学生搞好沟通，及时进行信息反馈。</text></g>
<g id="p3-5-4-2"><rect class="ns" x="226.5" y="3151.2" width="72.8" height="17.3" rx="3.5"/><text class="t" x="230.4" y="3159.9">学困生辅导措施：</text></g>
<g id="p3-5-4-2a"><rect class="ns" x="39.2" y="3036.5" width="171" height="28.2" rx="3.5"/><text class="t" x="43.1" y="3045.6">1、学生谈心，帮助他们找自己的优点，树立<tspan x="43.1" dy="10.5">起学习的信心。</tspan></text></g>
<g id="p3-5-4-2b"><rect class="ns" x="39.2" y="3082.8" width="171" height="39.1" rx="3.5"/><text class="t" x="43.1" y="3092.2">2、充分了解差生现行学习方法，给予正确引<tspan x="43.1" dy="10.5">导，朝正确方向发展，保证差生改善目前学习</tspan><tspan x="43.1" dy="10.5">差的状况，提高学习成绩。</tspan></text></g>
<g id="p3-5-4-2c"><rect class="ns" x="39.2" y="3140.3" width="171" height="49.2" rx="3.5"/><text class="t" x="43.1" y="3149.3">3、采用激励机制，对差生的每一点进步都给<tspan x="43.1" dy="10.5">予肯定，并鼓励其继续进取，在优生中树立榜</tspan><tspan x="43.1" dy="10.5">样，给机会表现，调动他们的学习积极性和成</tspan><tspan x="43.1" dy="10.5">功感。</tspan></text></g>
<g id="p3-5-4-2d"><rect class="ns" x="39.2" y="3208.3" width="171" height="28.2" rx="3.5"/><text class="t" x="43.1" y="3217.3">4、用优等生带动差生，以优促差，以实现"<tspan x="43.1" dy="10.5">培优"和"辅差"。</tspan></text></g>
<g id="p3-5-4-2e"><rect class="ns" x="39.2" y="3254.9" width="171" height="28.2" rx="3.5"/><text class="t" x="43.1" y="3264">5、适量地布置作业，定时进行检查，以使他<tspan x="43.1" dy="10.5">们养成良好的学习习惯。</tspan></text></g>

<g id="plan5"><rect x="481.5" y="3598.2" width="155.9" height="24.4" rx="12.2" fill="#3f6de6"/><text class="p w" x="559.4" y="3610.4">初二历史下册教学工作计划5</text></g>
<g id="p5-1"><rect class="bs" x="401.4" y="3317.9" width="64.6" height="17.7" rx="3.5"/><text class="t" x="405.3" y="3326.7">一、指导思想：</text></g>
<g id="p5-1a"><rect class="bs" x="214.1" y="3301.9" width="171" height="48.9" rx="3.5"/><text class="t" x="217.9" y="3311">树立"以人为本"的教育观，适应课改发展要求<tspan x="217.9" dy="10.5">，改变教学观念，改进教学方法，提高课堂学</tspan><tspan x="217.9" dy="10.5">习时效，促进学生学习态度和学习方式的转变</tspan><tspan x="217.9" dy="10.5">，促进教学质量的提高。</tspan></text></g>
<g id="p5-2"><rect class="bs" x="409.2" y="3448.5" width="56.8" height="17.3" rx="3.5"/><text class="t" x="413" y="3457.2">二、教材分析</text></g>
<g id="p5-2a"><rect class="bs" x="222.7" y="3391" width="170.5" height="48.9" rx="3.5"/><text class="t" x="226.5" y="3400">1、初二历册主要讲述中国近代史。这段历史<tspan x="226.5" dy="10.5">以1840年中英鸦片战争的爆发为开端，止于1</tspan><tspan x="226.5" dy="10.5">949年中华人民共和国成立，时间跨度为110</tspan><tspan x="226.5" dy="10.5">年，共24课时。</tspan></text></g>
<g id="p5-2a1"><rect class="bs" x="35.3" y="3369.6" width="171" height="91.4" rx="3.5"/><text class="t" x="39.2" y="3378.2">这一段历史的绝对时间不算长，但却是社会剧<tspan x="39.2" dy="10.5">烈动荡、内外矛盾斗争极其尖锐复杂、社会变</tspan><tspan x="39.2" dy="10.5">革异常快捷的一个历史时期，历经清朝后期、</tspan><tspan x="39.2" dy="10.5">中华民国临时政府时期、北洋军阀统治时期和</tspan><tspan x="39.2" dy="10.5">国民政府时期，新陈代谢的节律非常快。其间</tspan><tspan x="39.2" dy="10.5">，充满了侵略与反侵略、压迫与反压迫、变革</tspan><tspan x="39.2" dy="10.5">与反变革、革命与反革命的矛盾斗争，历史内</tspan><tspan x="39.2" dy="10.5">涵极为丰富。</tspan></text></g>
<g id="p5-2b"><rect class="bs" x="222.7" y="3479.1" width="170.5" height="38.8" rx="3.5"/><text class="t" x="226.5" y="3488.4">2、重点及难点：重点是中国近代史部分，难<tspan x="226.5" dy="10.5">点是认清中国近现代史的发展，了解国情，提</tspan><tspan x="226.5" dy="10.5">高认识、培养归纳综合能力。</tspan></text></g>
<g id="p5-3"><rect class="bs" x="409.2" y="3589" width="56.8" height="17.7" rx="3.5"/><text class="t" x="413" y="3597.8">三、学情分析</text></g>
<g id="p5-3a"><rect class="bs" x="222.7" y="3536.5" width="170.5" height="28.6" rx="3.5"/><text class="t" x="226.5" y="3545.8">初二学生具备了一定的历史基础知识和综合分<tspan x="226.5" dy="10.5">析能力。为教师在教学上提供了较大的空间。</tspan></text></g>
<g id="p5-3b"><rect class="bs" x="222.7" y="3583.3" width="170.5" height="123.1" rx="3.5"/><text class="t" x="226.5" y="3592.6">我们学校的大多数学生对历史知识的了解主要<tspan x="226.5" dy="10.5">来源于课本。学生课余查阅资料的途径不多。</tspan><tspan x="226.5" dy="10.5">大部分学生主要靠课本获取历史知识，但是教</tspan><tspan x="226.5" dy="10.5">材涉及的历史事件较多且繁杂，而教材虽然将</tspan><tspan x="226.5" dy="10.5">课程标准的内容纳入其中，但是教材过于简略</tspan><tspan x="226.5" dy="10.5">，历史事件介绍得不够详细完整，这就给教师</tspan><tspan x="226.5" dy="10.5">的教学带来了很大困难，同时学生在学习的过</tspan><tspan x="226.5" dy="10.5">程中，无法形成完整的概念。这就要求教师在</tspan><tspan x="226.5" dy="10.5">教材的处理上，要合理的组织现有的教学资源</tspan><tspan x="226.5" dy="10.5">，大胆取舍，补充新材料。使教学过程更加流</tspan><tspan x="226.5" dy="10.5">畅，衔接更加自然。</tspan></text></g>
<g id="p5-4"><rect class="bs" x="409.2" y="3885.3" width="56.8" height="17.7" rx="3.5"/><text class="t" x="413" y="3894.1">四、工作目标</text></g>
<g id="p5-4-1"><rect class="bs" x="308" y="3795.3" width="85.2" height="17.7" rx="3.5"/><text class="t" x="311.9" y="3804.1">(一)基础知识教学目标</text></g>
<g id="p5-4-1a"><rect class="bs" x="120.2" y="3725" width="171" height="38.8" rx="3.5"/><text class="t" x="124" y="3734.3">1、对重大历史事件和重要人物进行具体描述<tspan x="124" dy="10.5">，讲清线索。每课突出重点、基础点让学生掌</tspan><tspan x="124" dy="10.5">握巩固好。</tspan></text></g>
<g id="p5-4-1b"><rect class="bs" x="120.2" y="3781.9" width="171" height="39.2" rx="3.5"/><text class="t" x="124" y="3791.2">2、经济、文化、政治方面让学生知道，并了<tspan x="124" dy="10.5">解发展情况，追溯本源，充实内容，联系当代</tspan><tspan x="124" dy="10.5">与环保相关知识，及时教育。</tspan></text></g>
<g id="p5-4-1c"><rect class="bs" x="120.2" y="3839.3" width="171" height="49.2" rx="3.5"/><text class="t" x="124" y="3848.5">3、对课文知识进行归纳、综合，让学生系统<tspan x="124" dy="10.5">掌握，教会学生学法、记法，充分利用课本的</tspan><tspan x="124" dy="10.5">思考提示、"动脑筋"等，增强学生兴趣。提高</tspan><tspan x="124" dy="10.5">教学效果。</tspan></text></g>
<g id="p5-4-2"><rect class="bs" x="323.5" y="3975" width="69.7" height="17.7" rx="3.5"/><text class="t" x="327.4" y="3983.8">(二)情感教育目标</text></g>
<g id="p5-4-2a"><rect class="bs" x="136.5" y="3907.9" width="170.6" height="37.9" rx="3.5"/><text class="t" x="140.4" y="3916.8">1、进行爱国主义优良传统教育。充分利用教<tspan x="140.4" dy="10.5">材史实，增强学生爱国认知，学革命先烈及仁</tspan><tspan x="140.4" dy="10.5">人志士的爱国事迹，为实现人类理想而奋斗。</tspan></text></g>
<g id="p5-4-2b"><rect class="bs" x="136.5" y="3964.8" width="170.6" height="38.3" rx="3.5"/><text class="t" x="140.4" y="3973.7">2、初步用历史辩证唯物主义观教育。使学生<tspan x="140.4" dy="10.5">学会科学分析评价革命时期的史实及人物，培</tspan><tspan x="140.4" dy="10.5">养分析归纳能力。</tspan></text></g>
<g id="p5-4-2c"><rect class="bs" x="136.5" y="4022.1" width="170.6" height="38.4" rx="3.5"/><text class="t" x="140.4" y="4031">3、进行国情教育，增强时代责任感，让学生<tspan x="140.4" dy="10.5">了解认识中国近代的屈辱史，内外对比，更要</tspan><tspan x="140.4" dy="10.5">为国争光，树立民族自尊、自豪、自信。</tspan></text></g>

<g id="plan2"><rect x="884.1" y="1570" width="156" height="24.4" rx="12.2" fill="#f5a24b"/><text class="p" x="962.1" y="1582.2" fill="#5c3510">初二历史下册教学工作计划2</text></g>
<g id="p2-0"><rect class="os" x="1056.4" y="1556.8" width="170.9" height="49.7" rx="3.5"/><text class="t ot" x="1060.9" y="1565.8">为了适应素质教育的要求，落实教学工作的中<tspan x="1060.9" dy="10.5">心地位，完成教学大纲所提出的教学任务，面</tspan><tspan x="1060.9" dy="10.5">向全体学生，全面提高教学质量。为更好地完</tspan><tspan x="1060.9" dy="10.5">成本学期的教学任务，特制定计划如下：</tspan></text></g>
<g id="p2-1"><rect class="os" x="1242.9" y="1367.1" width="73.5" height="17.6" rx="3.5"/><text class="t ot" x="1246.8" y="1375.9">一、学生基本情况</text></g>
<g id="p2-1a"><rect class="os" x="1332.6" y="1329.7" width="170.3" height="92" rx="3.5"/><text class="t ot" x="1335.9" y="1338.7">初二4-6班的学生年龄在14——15岁之间。<tspan x="1335.9" dy="10.5">我所教的3个班156名学生，基本素质较好，</tspan><tspan x="1335.9" dy="10.5">有一定的发展潜力，男女比例相当。学习态度</tspan><tspan x="1335.9" dy="10.5">端正，理解记忆的能力比较强，但个别同学心</tspan><tspan x="1335.9" dy="10.5">理素质较差，要提高他们的抗挫折力，能使学</tspan><tspan x="1335.9" dy="10.5">生健康成长。大多数学生在目标明确，思想上</tspan><tspan x="1335.9" dy="10.5">积极进取，热爱班级体，形成了正确的人生观</tspan><tspan x="1335.9" dy="10.5">和世界观，能积极参加各种活动。</tspan></text></g>
<g id="p2-2"><rect class="os" x="1242.9" y="1482" width="106.1" height="18" rx="3.5"/><text class="t ot" x="1246.8" y="1491">二、本学期教学任务及要求</text></g>
<g id="p2-2a"><rect class="os" x="1365.1" y="1440.1" width="170.3" height="101.9" rx="3.5"/><text class="t ot" x="1369" y="1448.7">通过对历史学科的教学，对学生进行国情教育<tspan x="1369" dy="10.5">，培养学生的爱国主义的思想感情，培养学生</tspan><tspan x="1369" dy="10.5">的民族自豪感，并让学生正确的认识自己，全</tspan><tspan x="1369" dy="10.5">面的评价自己。在教学的过程中，使学生具备</tspan><tspan x="1369" dy="10.5">一定的自学能力，使之由"学会"变为"会学"，</tspan><tspan x="1369" dy="10.5">并培养学生的分析问题、解决问题的能力。在</tspan><tspan x="1369" dy="10.5">教学的过程中，注意锻炼培养学生的认知能力</tspan><tspan x="1369" dy="10.5">，使学生能够理解教材的基本概念和基本原理</tspan><tspan x="1369" dy="10.5">，培养学生的创新精神和实践能力。</tspan></text></g>
<g id="p2-3"><rect class="os" x="1242.9" y="1581.3" width="57.2" height="17.6" rx="3.5"/><text class="t ot" x="1246.8" y="1590.1">三、教材分析</text></g>
<g id="p2-3a"><rect class="os" x="1316.4" y="1560" width="170.3" height="59.4" rx="3.5"/><text class="t ot" x="1320.3" y="1568.5">本教材共23课，教学中心是中国近代史，重<tspan x="1320.3" dy="10.5">点是教会学生爱国。因此教师必须深入研究教</tspan><tspan x="1320.3" dy="10.5">材，抓住重点，突破难点，培养学生分析问题</tspan><tspan x="1320.3" dy="10.5">和解决问题的能力，尤其初二学生注重能力的</tspan><tspan x="1320.3" dy="10.5">培养。</tspan></text></g>
<g id="p2-4"><rect class="os" x="1242.9" y="1779.6" width="81.9" height="17.6" rx="3.5"/><text class="t ot" x="1246.8" y="1788.4">四、教学方法、措施</text></g>
<g id="p2-4a"><rect class="os" x="1340.4" y="1639" width="171" height="37.8" rx="3.5"/><text class="t ot" x="1344.3" y="1647.6">1、作为教师，首先要认真学习，研究并深刻<tspan x="1344.3" dy="10.5">领会思想历史教学大纲，吃透教材，抓住重点</tspan><tspan x="1344.3" dy="10.5">，突破难点。在教材中，真正做到有的放矢。</tspan></text></g>
<g id="p2-4b"><rect class="os" x="1340.4" y="1695.6" width="171" height="39.2" rx="3.5"/><text class="t ot" x="1344.3" y="1705">2、精心备课，做到既备教材，又备学生，对<tspan x="1344.3" dy="10.5">教学的各个环节精心设计，不断提高课堂效率</tspan><tspan x="1344.3" dy="10.5">。</tspan></text></g>
<g id="p2-4c"><rect class="os" x="1340.4" y="1753.2" width="171" height="28.2" rx="3.5"/><text class="t ot" x="1344.3" y="1762.2">3、讲究恰当的学习方法，精讲多练，采用多<tspan x="1344.3" dy="10.5">种方式，巩固练习。</tspan></text></g>
<g id="p2-4d"><rect class="os" x="1340.4" y="1799.8" width="171" height="38.8" rx="3.5"/><text class="t ot" x="1344.3" y="1808.8">4、运用现代化教学手段，提高学生学习历史<tspan x="1344.3" dy="10.5">的积极性，优化课堂结构，做到在愉快和和谐</tspan><tspan x="1344.3" dy="10.5">的气氛中完成教学任务。</tspan></text></g>
<g id="p2-4e"><rect class="os" x="1340.4" y="1857" width="171" height="28.5" rx="3.5"/><text class="t ot" x="1344.3" y="1866.4">5、组织学生开展丰富多彩的课外活动，开拓<tspan x="1344.3" dy="10.5">视野，激发学习兴趣。</tspan></text></g>
<g id="p2-4f"><rect class="os" x="1340.4" y="1903.6" width="171" height="28.5" rx="3.5"/><text class="t ot" x="1344.3" y="1913">6、分期搞好单元测验。以便对学生基本情况<tspan x="1344.3" dy="10.5">有所了解。</tspan></text></g>

<g id="plan4"><rect x="884.1" y="2456.6" width="156" height="24.4" rx="12.2" fill="#f3d12b"/><text class="p" x="962.1" y="2468.8" fill="#4a3800">初二历史下册教学工作计划4</text></g>
<g id="p4-0"><rect class="ys" x="1056.4" y="1950.2" width="170.9" height="49.8" rx="3.5"/><text class="t yt" x="1060.3" y="1959.2">新的一学期又开始了，为了更好地完成本学期<tspan x="1060.3" dy="10.5">的教学工作，配合好学校的各项工作，进一步</tspan><tspan x="1060.3" dy="10.5">落实贯彻好教育教学方针，制定了如下的教学</tspan><tspan x="1060.3" dy="10.5">计划。</tspan></text></g>
<g id="p4-1"><rect class="ys" x="1056.4" y="2049.8" width="73.4" height="17.6" rx="3.5"/><text class="t yt" x="1060.3" y="2058.6">一、基本情况分析</text></g>
<g id="p4-1a"><rect class="ys" x="1145.4" y="2018.3" width="171" height="81.4" rx="3.5"/><text class="t yt" x="1149.3" y="2027.3">经过上学期的学习，学生已掌握了一定的历史<tspan x="1149.3" dy="10.5">知识、合作技巧及自主探究学习的能力，但大</tspan><tspan x="1149.3" dy="10.5">部分学生还没有掌握科学的学习方法，掌握的</tspan><tspan x="1149.3" dy="10.5">基础知识和基本能力也不扎实，大多数学生课</tspan><tspan x="1149.3" dy="10.5">堂上缺少积极主动的参与意识，不注意知识点</tspan><tspan x="1149.3" dy="10.5">的整合，缺乏归纳分析能力，这些都是教学的</tspan><tspan x="1149.3" dy="10.5">不利条件，有待于进一步加强、改善。</tspan></text></g>
<g id="p4-2"><rect class="ys" x="1056.4" y="2175.9" width="73.4" height="17.6" rx="3.5"/><text class="t yt" x="1060.3" y="2184.7">二、教材内容分析</text></g>
<g id="p4-2a"><rect class="ys" x="1145.4" y="2118.2" width="171" height="133.1" rx="3.5"/><text class="t yt" x="1149.3" y="2127.2">《历史》八年级下册，内容主要包括了中国现<tspan x="1149.3" dy="10.5">代史部分，历史时空跨度大、历史问题高度</tspan><tspan x="1149.3" dy="10.5">概括，具有历史现实感和社会实践性，渗透了</tspan><tspan x="1149.3" dy="10.5">较强的思想性和政治性。它承接《历史》八年</tspan><tspan x="1149.3" dy="10.5">级上册中国近代史发展线索，设置为"中华人</tspan><tspan x="1149.3" dy="10.5">民共和国的成立和巩固""社会主义道路的探索</tspan><tspan x="1149.3" dy="10.5">""建设有中国特色社会主义"等五个学习单元</tspan><tspan x="1149.3" dy="10.5">，概述了20世纪后半叶中国人民在前进道路</tspan><tspan x="1149.3" dy="10.5">上历经的两次历史巨变，反映了新中国特色社</tspan><tspan x="1149.3" dy="10.5">会主义制度的确立、社会主义建设道路的探索</tspan><tspan x="1149.3" dy="10.5">和改革开放、走有中国特色社会主义道路的历</tspan><tspan x="1149.3" dy="10.5">史发展过程。</tspan></text></g>
<g id="p4-3"><rect class="ys" x="1056.4" y="2379.8" width="89" height="17.6" rx="3.5"/><text class="t yt" x="1060.3" y="2388.6">三、教学任务和目标：</text></g>
<g id="p4-3a"><rect class="ys" x="1161.7" y="2269.5" width="170.9" height="70.5" rx="3.5"/><text class="t yt" x="1165.6" y="2278.5">1、八年级下册历史教学，力求向学生传授中<tspan x="1165.6" dy="10.5">国现代历史基础知识，基本线索，让学生理解</tspan><tspan x="1165.6" dy="10.5">重要的历史概念，历史事件及涉及的重要历史</tspan><tspan x="1165.6" dy="10.5">人物的历史功绩，了解现代中国基本国情，认</tspan><tspan x="1165.6" dy="10.5">识新中国的建国史、探索史、发展史、外交史</tspan><tspan x="1165.6" dy="10.5">，培养学生创新意识和开拓精神。</tspan></text></g>
<g id="p4-3b"><rect class="ys" x="1161.7" y="2358.4" width="170.9" height="59.9" rx="3.5"/><text class="t yt" x="1165.6" y="2367.4">2、继续传授运用辩证唯物主义和历史唯物主<tspan x="1165.6" dy="10.5">义观点分析历史人物，历史事件和历史现象，</tspan><tspan x="1165.6" dy="10.5">学会归纳整合历史知识，学会从众多历史事物</tspan><tspan x="1165.6" dy="10.5">的发展过程中揭示历史规律，于启联想和想象</tspan><tspan x="1165.6" dy="10.5">，自主探究，从学会到会学。</tspan></text></g>
<g id="p4-3c"><rect class="ys" x="1161.7" y="2436.7" width="170.9" height="70.5" rx="3.5"/><text class="t yt" x="1165.6" y="2445.7">3、通过中国现代爱国史实，向学生进行爱国<tspan x="1165.6" dy="10.5">主义传统教育，社会主义国情教育，领袖人物</tspan><tspan x="1165.6" dy="10.5">的开拓教育，民族团结教育，使学生继承和发</tspan><tspan x="1165.6" dy="10.5">扬中华民族的优良文化传统，具有创新和开拓</tspan><tspan x="1165.6" dy="10.5">才能，掌握为祖国社会主义现代化建设贡献力</tspan><tspan x="1165.6" dy="10.5">量的本领。</tspan></text></g>
<g id="p4-4"><rect class="ys" x="1056.4" y="2716.2" width="56.5" height="17.6" rx="3.5"/><text class="t yt" x="1060.3" y="2725">四、具体措施</text></g>
<g id="p4-4a"><rect class="ys" x="1129.2" y="2525.6" width="170.9" height="49.4" rx="3.5"/><text class="t yt" x="1133.1" y="2534.6">1、本学期继续以打造高效课堂，提高教学效<tspan x="1133.1" dy="10.5">率为己任，努力提高教学质量和增强学生素质</tspan><tspan x="1133.1" dy="10.5">，思想、培养能力，按质按量完成教学教育任</tspan><tspan x="1133.1" dy="10.5">务，使学生掌握中国现代时期的历史。</tspan></text></g>
<g id="p4-4b"><rect class="ys" x="1129.2" y="2593.4" width="170.9" height="28.6" rx="3.5"/><text class="t yt" x="1133.1" y="2602.4">2、重点学习前五个单元的内容，为中考打好<tspan x="1133.1" dy="10.5">基础。</tspan></text></g>
<g id="p4-4c"><rect class="ys" x="1129.2" y="2640" width="170.9" height="39.1" rx="3.5"/><text class="t yt" x="1133.1" y="2649">3、认真钻研课标、教材、教参;认真备课;精<tspan x="1133.1" dy="10.5">心设计每一个导学案，上好每一堂课;耐心辅</tspan><tspan x="1133.1" dy="10.5">导学生，教书育人。</tspan></text></g>
<g id="p4-4d"><rect class="ys" x="1129.2" y="2697.5" width="170.9" height="60" rx="3.5"/><text class="t yt" x="1133.1" y="2706.5">4、以转变学生的学习方式为核心，注重学生<tspan x="1133.1" dy="10.5">学习历史知识的过程和方法，使学生学会学习</tspan><tspan x="1133.1" dy="10.5">。鼓励学生通过独立思考和交流合作学习历史</tspan><tspan x="1133.1" dy="10.5">，培养发现历史问题和解决历史问题的能力，</tspan><tspan x="1133.1" dy="10.5">养成探究式学习的习惯。</tspan></text></g>
<g id="p4-4e"><rect class="ys" x="1129.2" y="2775.5" width="170.9" height="28.6" rx="3.5"/><text class="t yt" x="1133.1" y="2784.5">5、积极探索多种教学途径，组织丰富多彩的<tspan x="1133.1" dy="10.5">教学活动，充分开发和利用课程教育资源。</tspan></text></g>
<g id="p4-4f"><rect class="ys" x="1129.2" y="2822.5" width="170.9" height="38.2" rx="3.5"/><text class="t yt" x="1133.1" y="2831.4">6、积极组织开展教研活动，深入学习教学理<tspan x="1133.1" dy="10.5">论，搞课题研究，积极撰写论文，提高教学理</tspan><tspan x="1133.1" dy="10.5">论水平和教研能力。</tspan></text></g>
<g id="p4-4g"><rect class="ys" x="1129.2" y="2879.5" width="170.9" height="39.2" rx="3.5"/><text class="t yt" x="1133.1" y="2888.6">7、优化课堂教学。严抓纪律，采用多种教法<tspan x="1133.1" dy="10.5">，如讨论、评论、阅读、自学等方式，启发学</tspan><tspan x="1133.1" dy="10.5">生动口、动手、动脑和学会学习和做人。</tspan></text></g>
<g id="p4-5"><rect class="ys" x="1056.4" y="2953.4" width="89" height="17.6" rx="3.5"/><text class="t yt" x="1060.3" y="2962.2">五、教学资源的开发：</text></g>
<g id="p4-5a"><rect class="ys" x="1161.7" y="2936.7" width="170.9" height="50.1" rx="3.5"/><text class="t yt" x="1165.6" y="2945.7">利用学校图书室、网络及其它媒体开发教学资<tspan x="1165.6" dy="10.5">源，相关历史背景资料、影片等播放给学生观</tspan><tspan x="1165.6" dy="10.5">看，增强学生学习积极性和对历史资料的理解</tspan><tspan x="1165.6" dy="10.5">，</tspan></text></g>

<g id="related"><rect x="884.1" y="3157.6" width="202.8" height="38.7" rx="19" fill="#10b97a"/><text class="p w" x="902.3" y="3170.1" text-anchor="start" style="text-anchor:start">初二历史下册教学工作计划相关文<tspan x="902.3" dy="13.7">章：</tspan></text></g>
<g id="r1"><rect class="gs" x="1101.9" y="3004.9" width="120.2" height="18" rx="3.5"/><text class="t" x="1105" y="3013.9">★八年级历史学科教学计划5篇</text></g>
<g id="r2"><rect class="gs" x="1101.9" y="3041.1" width="139.8" height="18" rx="3.5"/><text class="t" x="1105" y="3050.1">★关于人教版初中历史课程教学计划</text></g>
<g id="r3"><rect class="gs" x="1101.9" y="3077.3" width="120.2" height="18" rx="3.5"/><text class="t" x="1105" y="3086.3">★人教版初二历史下册教案5篇</text></g>
<g id="r4"><rect class="gs" x="1101.9" y="3113.5" width="139.8" height="18" rx="3.5"/><text class="t" x="1105" y="3122.5">★2021初二历史理论课教学计划5篇</text></g>
<g id="r5"><rect class="gs" x="1101.9" y="3149.7" width="132" height="18" rx="3.5"/><text class="t" x="1105" y="3158.7">★关于八年级历史教研组教学计划</text></g>
<g id="r6"><rect class="gs" x="1101.9" y="3185.9" width="120.2" height="18" rx="3.5"/><text class="t" x="1105" y="3194.9">★新学期初中历史教学计划5篇</text></g>
<g id="r7"><rect class="gs" x="1101.9" y="3222.1" width="118.3" height="18" rx="3.5"/><text class="t" x="1105" y="3231.1">★2021初中历史学科教学计划</text></g>
<g id="r8"><rect class="gs" x="1101.9" y="3258.3" width="123.5" height="18" rx="3.5"/><text class="t" x="1105" y="3267.3">★八年级下册历史教案设计五篇</text></g>
<g id="r9"><rect class="gs" x="1101.9" y="3294.5" width="167" height="18" rx="3.5"/><text class="t" x="1105" y="3303.5">★人教版八年级下册历史教案2020范文大全</text></g>
<g id="r10"><rect class="gs" x="1101.9" y="3330.7" width="134.6" height="18" rx="3.5"/><text class="t" x="1105" y="3339.7">★初中历史工作教学计划方案2021</text></g>
</svg>
